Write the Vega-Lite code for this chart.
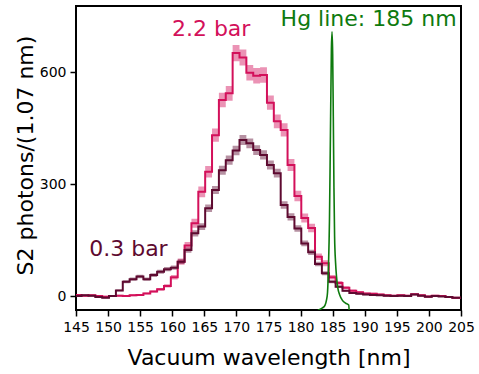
{
 "$schema": "https://vega.github.io/schema/vega-lite/v6.json",
 "width": 385, "height": 304,
 "autosize": {"type": "none"},
 "padding": {"left": 76, "top": 6, "right": 18, "bottom": 64},
 "background": "white",
 "config": {"view": {"stroke": "black", "strokeWidth": 2},
   "axis": {"labelOverlap": false, "labelFont": "DejaVu Sans", "titleFont": "DejaVu Sans", "labelFontSize": 14, "titleFontSize": 22,
            "titleFontWeight": "normal", "labelColor": "black", "titleColor": "black", "tickColor": "black", "tickSize": 6, "tickWidth": 1.5,
            "labelPadding": 4, "domain": false, "grid": false},
   "axisX": {"titleY": 54, "titleBaseline": "alphabetic", "labelFlush": false},
   "axisY": {"titleX": -51, "titleY": 149, "titleBaseline": "middle", "titleAlign": "center"}},
 "datasets": {
  "hist": [
   {"p":"2.2 bar","wl":144.265,"v":2,"lo":-0.5,"hi":4.5},
   {"p":"2.2 bar","wl":145.335,"v":3,"lo":0.5,"hi":5.5},
   {"p":"2.2 bar","wl":146.405,"v":1,"lo":-1.5,"hi":3.5},
   {"p":"2.2 bar","wl":147.475,"v":2,"lo":-0.5,"hi":4.5},
   {"p":"2.2 bar","wl":148.545,"v":0,"lo":-2.5,"hi":2.5},
   {"p":"2.2 bar","wl":149.615,"v":-2,"lo":-4.5,"hi":0.5},
   {"p":"2.2 bar","wl":150.685,"v":0,"lo":-2.5,"hi":2.5},
   {"p":"2.2 bar","wl":151.755,"v":1,"lo":-1.5,"hi":3.5},
   {"p":"2.2 bar","wl":152.825,"v":0,"lo":-2.5,"hi":2.5},
   {"p":"2.2 bar","wl":153.895,"v":2,"lo":-0.5,"hi":4.5},
   {"p":"2.2 bar","wl":154.965,"v":3,"lo":0.5,"hi":5.5},
   {"p":"2.2 bar","wl":156.035,"v":7,"lo":4.5,"hi":9.5},
   {"p":"2.2 bar","wl":157.105,"v":12,"lo":9.1,"hi":14.9},
   {"p":"2.2 bar","wl":158.175,"v":18,"lo":14.4,"hi":21.6},
   {"p":"2.2 bar","wl":159.245,"v":27,"lo":22.6,"hi":31.4},
   {"p":"2.2 bar","wl":160.315,"v":50,"lo":44,"hi":56},
   {"p":"2.2 bar","wl":161.385,"v":92,"lo":83.8,"hi":100.2},
   {"p":"2.2 bar","wl":162.455,"v":135,"lo":125.1,"hi":144.9},
   {"p":"2.2 bar","wl":163.525,"v":195,"lo":183.1,"hi":206.9},
   {"p":"2.2 bar","wl":164.595,"v":279,"lo":264.8,"hi":293.2},
   {"p":"2.2 bar","wl":165.665,"v":333,"lo":317.5,"hi":348.5},
   {"p":"2.2 bar","wl":166.735,"v":431,"lo":413.4,"hi":448.6},
   {"p":"2.2 bar","wl":167.805,"v":525,"lo":505.5,"hi":544.5},
   {"p":"2.2 bar","wl":168.875,"v":543,"lo":523.2,"hi":562.8},
   {"p":"2.2 bar","wl":169.945,"v":651,"lo":629.3,"hi":672.7},
   {"p":"2.2 bar","wl":171.015,"v":639,"lo":617.5,"hi":660.5},
   {"p":"2.2 bar","wl":172.085,"v":598,"lo":577.2,"hi":618.8},
   {"p":"2.2 bar","wl":173.155,"v":590,"lo":569.4,"hi":610.6},
   {"p":"2.2 bar","wl":174.225,"v":592,"lo":571.3,"hi":612.7},
   {"p":"2.2 bar","wl":175.295,"v":518,"lo":498.7,"hi":537.3},
   {"p":"2.2 bar","wl":176.365,"v":468,"lo":449.6,"hi":486.4},
   {"p":"2.2 bar","wl":177.435,"v":445,"lo":427.1,"hi":462.9},
   {"p":"2.2 bar","wl":178.505,"v":351,"lo":335.1,"hi":366.9},
   {"p":"2.2 bar","wl":179.575,"v":268,"lo":254.1,"hi":281.9},
   {"p":"2.2 bar","wl":180.645,"v":209,"lo":196.7,"hi":221.3},
   {"p":"2.2 bar","wl":181.715,"v":182,"lo":170.5,"hi":193.5},
   {"p":"2.2 bar","wl":182.785,"v":105,"lo":96.3,"hi":113.7},
   {"p":"2.2 bar","wl":183.855,"v":88,"lo":80,"hi":96},
   {"p":"2.2 bar","wl":184.925,"v":50,"lo":44,"hi":56},
   {"p":"2.2 bar","wl":185.995,"v":35,"lo":30,"hi":40},
   {"p":"2.2 bar","wl":187.065,"v":22,"lo":18,"hi":26},
   {"p":"2.2 bar","wl":188.135,"v":14,"lo":10.8,"hi":17.2},
   {"p":"2.2 bar","wl":189.205,"v":10,"lo":7.3,"hi":12.7},
   {"p":"2.2 bar","wl":190.275,"v":7,"lo":4.5,"hi":9.5},
   {"p":"2.2 bar","wl":191.345,"v":6,"lo":3.5,"hi":8.5},
   {"p":"2.2 bar","wl":192.415,"v":4,"lo":1.5,"hi":6.5},
   {"p":"2.2 bar","wl":193.485,"v":2,"lo":-0.5,"hi":4.5},
   {"p":"2.2 bar","wl":194.555,"v":1,"lo":-1.5,"hi":3.5},
   {"p":"2.2 bar","wl":195.625,"v":2,"lo":-0.5,"hi":4.5},
   {"p":"2.2 bar","wl":196.695,"v":1,"lo":-1.5,"hi":3.5},
   {"p":"2.2 bar","wl":197.765,"v":5,"lo":2.5,"hi":7.5},
   {"p":"2.2 bar","wl":198.835,"v":2,"lo":-0.5,"hi":4.5},
   {"p":"2.2 bar","wl":199.905,"v":-1,"lo":-3.5,"hi":1.5},
   {"p":"2.2 bar","wl":200.975,"v":1,"lo":-1.5,"hi":3.5},
   {"p":"2.2 bar","wl":202.045,"v":0,"lo":-2.5,"hi":2.5},
   {"p":"2.2 bar","wl":203.115,"v":-3,"lo":-5.5,"hi":-0.5},
   {"p":"2.2 bar","wl":204.185,"v":-5,"lo":-7.5,"hi":-2.5},
   {"p":"2.2 bar","wl":205.255,"v":-5,"lo":-7.5,"hi":-2.5},
   {"p":"0.3 bar","wl":144.265,"v":0,"lo":-2,"hi":2},
   {"p":"0.3 bar","wl":145.335,"v":0,"lo":-2,"hi":2},
   {"p":"0.3 bar","wl":146.405,"v":2,"lo":0,"hi":4},
   {"p":"0.3 bar","wl":147.475,"v":1,"lo":-1,"hi":3},
   {"p":"0.3 bar","wl":148.545,"v":-3,"lo":-5,"hi":-1},
   {"p":"0.3 bar","wl":149.615,"v":-5,"lo":-7,"hi":-3},
   {"p":"0.3 bar","wl":150.685,"v":0,"lo":-2,"hi":2},
   {"p":"0.3 bar","wl":151.755,"v":15,"lo":12.5,"hi":17.5},
   {"p":"0.3 bar","wl":152.825,"v":38,"lo":34,"hi":42},
   {"p":"0.3 bar","wl":153.895,"v":45,"lo":40.6,"hi":49.4},
   {"p":"0.3 bar","wl":154.965,"v":52,"lo":47.3,"hi":56.7},
   {"p":"0.3 bar","wl":156.035,"v":45,"lo":40.6,"hi":49.4},
   {"p":"0.3 bar","wl":157.105,"v":56,"lo":51.1,"hi":60.9},
   {"p":"0.3 bar","wl":158.175,"v":65,"lo":59.8,"hi":70.2},
   {"p":"0.3 bar","wl":159.245,"v":72,"lo":66.5,"hi":77.5},
   {"p":"0.3 bar","wl":160.315,"v":76,"lo":70.3,"hi":81.7},
   {"p":"0.3 bar","wl":161.385,"v":92,"lo":85.8,"hi":98.2},
   {"p":"0.3 bar","wl":162.455,"v":123,"lo":115.8,"hi":130.2},
   {"p":"0.3 bar","wl":163.525,"v":168,"lo":159.6,"hi":176.4},
   {"p":"0.3 bar","wl":164.595,"v":186,"lo":177.1,"hi":194.9},
   {"p":"0.3 bar","wl":165.665,"v":235,"lo":225,"hi":245},
   {"p":"0.3 bar","wl":166.735,"v":284,"lo":273,"hi":295},
   {"p":"0.3 bar","wl":167.805,"v":337,"lo":325.1,"hi":348.9},
   {"p":"0.3 bar","wl":168.875,"v":364,"lo":351.6,"hi":376.4},
   {"p":"0.3 bar","wl":169.945,"v":390,"lo":377.2,"hi":402.8},
   {"p":"0.3 bar","wl":171.015,"v":418,"lo":404.7,"hi":431.3},
   {"p":"0.3 bar","wl":172.085,"v":409,"lo":395.9,"hi":422.1},
   {"p":"0.3 bar","wl":173.155,"v":391,"lo":378.1,"hi":403.9},
   {"p":"0.3 bar","wl":174.225,"v":378,"lo":365.4,"hi":390.6},
   {"p":"0.3 bar","wl":175.295,"v":351,"lo":338.8,"hi":363.2},
   {"p":"0.3 bar","wl":176.365,"v":329,"lo":317.2,"hi":340.8},
   {"p":"0.3 bar","wl":177.435,"v":244,"lo":233.8,"hi":254.2},
   {"p":"0.3 bar","wl":178.505,"v":212,"lo":202.5,"hi":221.5},
   {"p":"0.3 bar","wl":179.575,"v":181,"lo":172.3,"hi":189.7},
   {"p":"0.3 bar","wl":180.645,"v":141,"lo":133.3,"hi":148.7},
   {"p":"0.3 bar","wl":181.715,"v":117,"lo":110,"hi":124},
   {"p":"0.3 bar","wl":182.785,"v":86,"lo":80,"hi":92},
   {"p":"0.3 bar","wl":183.855,"v":61,"lo":55.9,"hi":66.1},
   {"p":"0.3 bar","wl":184.925,"v":38,"lo":34,"hi":42},
   {"p":"0.3 bar","wl":185.995,"v":25,"lo":21.7,"hi":28.3},
   {"p":"0.3 bar","wl":187.065,"v":14,"lo":11.6,"hi":16.4},
   {"p":"0.3 bar","wl":188.135,"v":8,"lo":6,"hi":10},
   {"p":"0.3 bar","wl":189.205,"v":6,"lo":4,"hi":8},
   {"p":"0.3 bar","wl":190.275,"v":4,"lo":2,"hi":6},
   {"p":"0.3 bar","wl":191.345,"v":3,"lo":1,"hi":5},
   {"p":"0.3 bar","wl":192.415,"v":2,"lo":0,"hi":4},
   {"p":"0.3 bar","wl":193.485,"v":1,"lo":-1,"hi":3},
   {"p":"0.3 bar","wl":194.555,"v":0,"lo":-2,"hi":2},
   {"p":"0.3 bar","wl":195.625,"v":1,"lo":-1,"hi":3},
   {"p":"0.3 bar","wl":196.695,"v":0,"lo":-2,"hi":2},
   {"p":"0.3 bar","wl":197.765,"v":4,"lo":2,"hi":6},
   {"p":"0.3 bar","wl":198.835,"v":1,"lo":-1,"hi":3},
   {"p":"0.3 bar","wl":199.905,"v":-2,"lo":-4,"hi":0},
   {"p":"0.3 bar","wl":200.975,"v":0,"lo":-2,"hi":2},
   {"p":"0.3 bar","wl":202.045,"v":-1,"lo":-3,"hi":1},
   {"p":"0.3 bar","wl":203.115,"v":-3,"lo":-5,"hi":-1},
   {"p":"0.3 bar","wl":204.185,"v":-5,"lo":-7,"hi":-3},
   {"p":"0.3 bar","wl":205.255,"v":-5,"lo":-7,"hi":-3}
  ],
  "hg": [
   {"wl":182.55,"v":-60},
   {"wl":182.7,"v":-39},
   {"wl":183.0,"v":-36},
   {"wl":183.4,"v":-32},
   {"wl":183.8,"v":-25},
   {"wl":184.05,"v":-10},
   {"wl":184.2,"v":10},
   {"wl":184.35,"v":80},
   {"wl":184.5,"v":200},
   {"wl":184.65,"v":430},
   {"wl":184.8,"v":660},
   {"wl":184.9,"v":708},
   {"wl":185.0,"v":650},
   {"wl":185.1,"v":480},
   {"wl":185.2,"v":290},
   {"wl":185.3,"v":160},
   {"wl":185.45,"v":90},
   {"wl":185.6,"v":52},
   {"wl":185.8,"v":22},
   {"wl":186.1,"v":3},
   {"wl":186.5,"v":-11},
   {"wl":187.0,"v":-19},
   {"wl":187.5,"v":-24},
   {"wl":187.62,"v":-60}
  ],
  "notes": [
   {"label":"2.2 bar","p":"2.2 bar","wl":166.06,"v":696},
   {"label":"0.3 bar","p":"0.3 bar","wl":153.17,"v":107}
  ],
  "hgnote": [
   {"label":"Hg line: 185 nm","wl":190.6,"v":723}
  ]
 },
 "layer": [
  {
   "data": {"name": "hist"},
   "mark": {"type": "area", "interpolate": "step", "clip": true, "opacity": 0.45},
   "encoding": {
    "x": {"field": "wl", "type": "quantitative", "title": "Vacuum wavelength [nm]",
          "scale": {"domain": [145, 205], "nice": false, "zero": false},
          "axis": {"labelOverlap": false, "values": [145,150,155,160,165,170,175,180,185,190,195,200,205]}},
    "y": {"field": "lo", "type": "quantitative", "title": "S2 photons/(1.07 nm)",
          "scale": {"domain": [-37.5, 777], "nice": false, "zero": false},
          "axis": {"labelOverlap": false, "values": [0, 300, 600]}},
    "y2": {"field": "hi"},
    "color": {"field": "p", "type": "nominal",
              "scale": {"domain": ["0.3 bar", "2.2 bar"], "range": ["#5e0a30", "#d3105a"]}, "legend": null}
   }
  },
  {
   "data": {"name": "hist"},
   "mark": {"type": "line", "interpolate": "step", "clip": true, "strokeWidth": 2},
   "encoding": {
    "x": {"field": "wl", "type": "quantitative", "title": "Vacuum wavelength [nm]", "axis": {"labelOverlap": false, "values": [145,150,155,160,165,170,175,180,185,190,195,200,205]}},
    "y": {"field": "v", "type": "quantitative", "title": "S2 photons/(1.07 nm)", "axis": {"labelOverlap": false, "values": [0, 300, 600]}},
    "color": {"field": "p", "type": "nominal", "legend": null}
   }
  },
  {
   "data": {"name": "hg"},
   "mark": {"type": "line", "interpolate": "monotone", "clip": true, "strokeWidth": 1.6, "color": "#0e7a0e"},
   "encoding": {
    "x": {"field": "wl", "type": "quantitative", "title": "Vacuum wavelength [nm]", "axis": {"labelOverlap": false, "values": [145,150,155,160,165,170,175,180,185,190,195,200,205]}},
    "y": {"field": "v", "type": "quantitative", "title": "S2 photons/(1.07 nm)", "axis": {"labelOverlap": false, "values": [0, 300, 600]}}
   }
  },
  {
   "data": {"name": "notes"},
   "mark": {"type": "text", "fontSize": 22, "font": "DejaVu Sans", "align": "center", "baseline": "alphabetic"},
   "encoding": {
    "x": {"field": "wl", "type": "quantitative", "title": "Vacuum wavelength [nm]", "axis": {"labelOverlap": false, "values": [145,150,155,160,165,170,175,180,185,190,195,200,205]}},
    "y": {"field": "v", "type": "quantitative", "title": "S2 photons/(1.07 nm)", "axis": {"labelOverlap": false, "values": [0, 300, 600]}},
    "text": {"field": "label"},
    "color": {"field": "p", "type": "nominal", "legend": null}
   }
  },
  {
   "data": {"name": "hgnote"},
   "mark": {"type": "text", "fontSize": 22, "font": "DejaVu Sans", "color": "#0e7a0e", "align": "center", "baseline": "alphabetic"},
   "encoding": {
    "x": {"field": "wl", "type": "quantitative", "title": "Vacuum wavelength [nm]", "axis": {"labelOverlap": false, "values": [145,150,155,160,165,170,175,180,185,190,195,200,205]}},
    "y": {"field": "v", "type": "quantitative", "title": "S2 photons/(1.07 nm)", "axis": {"labelOverlap": false, "values": [0, 300, 600]}},
    "text": {"field": "label"}
   }
  }
 ]
}
